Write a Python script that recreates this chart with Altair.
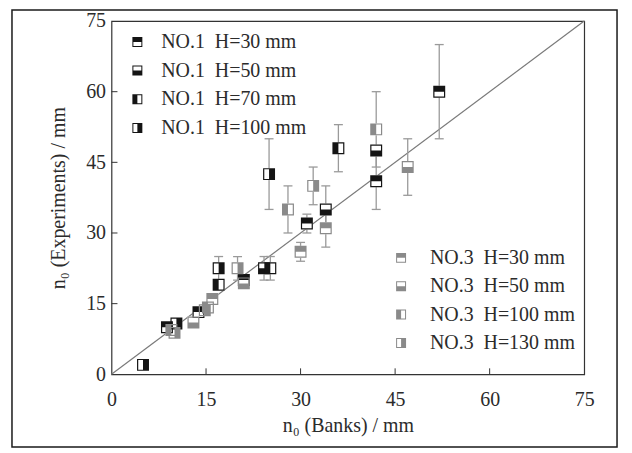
import altair as alt
import pandas as pd

# ---------------- data ----------------
series_no1 = ["NO.1\u00a0\u00a0H=30 mm", "NO.1\u00a0\u00a0H=50 mm", "NO.1\u00a0\u00a0H=70 mm", "NO.1\u00a0\u00a0H=100 mm"]
series_no3 = ["NO.3\u00a0\u00a0H=30 mm", "NO.3\u00a0\u00a0H=50 mm", "NO.3\u00a0\u00a0H=100 mm", "NO.3\u00a0\u00a0H=130 mm"]

# n0 from Banks (x), n0 from experiments (y), error half-length, series index (0-3 NO.1, 4-7 NO.3)
bank_x = [5, 8.8, 9.5, 10.3, 10.0, 13.0, 13.8, 14.8, 15.3, 16.0, 17.0, 17.0, 20.0, 21.0, 21.0,
          24.2, 25.2, 25.0, 28.0, 30.0, 31.0, 32.0, 34.0, 34.0, 36.0, 42.0, 42.0, 42.0, 47.0, 52.0]
exp_y = [2, 10.0, 9.4, 10.8, 8.8, 11.0, 13.2, 13.6, 14.2, 16.0, 19.0, 22.5, 22.5, 20.0, 19.3,
         22.5, 22.5, 42.5, 35.0, 26.0, 32.0, 40.0, 35.0, 31.0, 48.0, 52.0, 47.5, 41.0, 44.0, 60.0]
err_y = [0, 0, 0, 0, 0, 0, 0, 0, 0, 0, 0, 2.5, 2.5, 0, 0,
         2.5, 2.5, 7.5, 5, 2, 2, 4, 5, 4, 5, 8, 0, 6, 6, 10]
series_idx = [3, 0, 6, 3, 7, 5, 0, 7, 6, 4, 2, 3, 7, 0, 5,
              1, 2, 3, 6, 4, 0, 7, 1, 4, 2, 6, 1, 0, 5, 0]

tick_values = [0, 15, 30, 45, 60, 75]
inner_ticks = [15, 30, 45, 60]

all_series = series_no1 + series_no3
df = pd.DataFrame({
    "x": bank_x,
    "y": exp_y,
    "err": err_y,
    "series": [all_series[i] for i in series_idx],
})
df["lo"] = df["y"] - df["err"]
df["hi"] = df["y"] + df["err"]
df_err = df[df["err"] > 0]

diag = pd.DataFrame({"x": [0, 75], "y": [0, 75]})
ticks_df = pd.DataFrame({"t": inner_ticks})
one = pd.DataFrame({"a": [0]})

# half-filled square symbols: outline ring + half fill (nonzero winding)
ring = "M-1,-1L1,-1L1,1L-1,1Z M-0.8,-0.8L-0.8,0.8L0.8,0.8L0.8,-0.8Z "
half_paths = [
    ring + "M-1,-1L1,-1L1,0L-1,0Z",   # top half
    ring + "M-1,0L1,0L1,1L-1,1Z",     # bottom half
    ring + "M-1,-1L0,-1L0,1L-1,1Z",   # left half
    ring + "M0,-1L1,-1L1,1L0,1Z",     # right half
]

FONT = "Liberation Serif"
TXT = "#2b2b2b"
BLACK = "#141414"
GRAY = "#8a8a8a"
ERR = "#9a9a9a"

W, H = 475, 355

xs = alt.Scale(domain=[0, 75], nice=False, zero=False)
ys = alt.Scale(domain=[0, 75], nice=False, zero=False)

x_axis = alt.Axis(values=tick_values, grid=False, ticks=False, tickSize=0, domain=False,
                  labelFont=FONT, labelFontSize=20, labelColor=TXT, labelPadding=15,
                  labelFlush=False, labelOverlap=False,
                  title="n\u2080 (Banks) / mm", titleFont=FONT, titleFontSize=20,
                  titleFontWeight="normal", titleColor=TXT, titlePadding=6)
y_axis = alt.Axis(values=tick_values, grid=False, ticks=False, tickSize=0, domain=False,
                  labelFont=FONT, labelFontSize=20, labelColor=TXT, labelPadding=6,
                  labelFlush=False, labelOverlap=False,
                  title="n\u2080 (Experiments) / mm", titleFont=FONT, titleFontSize=20,
                  titleFontWeight="normal", titleColor=TXT, titlePadding=17)

line = alt.Chart(diag).mark_line(color="#7a7a7a", strokeWidth=1.2).encode(
    x=alt.X("x:Q", scale=xs, axis=x_axis),
    y=alt.Y("y:Q", scale=ys, axis=y_axis),
)

err_rule = alt.Chart(df_err).mark_rule(color=ERR, strokeWidth=1.3).encode(
    x="x:Q", y="lo:Q", y2="hi:Q")
cap_lo = alt.Chart(df_err).mark_tick(color=ERR, orient="horizontal", size=9, thickness=1.3, opacity=1).encode(
    x="x:Q", y="lo:Q")
cap_hi = alt.Chart(df_err).mark_tick(color=ERR, orient="horizontal", size=9, thickness=1.3, opacity=1).encode(
    x="x:Q", y="hi:Q")

bg = alt.Chart(df).mark_point(shape="square", filled=True, fill="white", size=144,
                              strokeWidth=0, opacity=1).encode(x="x:Q", y="y:Q")

pts1 = alt.Chart(df).transform_filter(
    alt.FieldOneOfPredicate(field="series", oneOf=series_no1)
).mark_point(filled=True, color=BLACK, size=144, strokeWidth=0, opacity=1).encode(
    x="x:Q", y="y:Q",
    shape=alt.Shape("series:N", scale=alt.Scale(domain=series_no1, range=half_paths),
                    legend=alt.Legend(title=None, orient="none", legendX=16, legendY=11,
                                      symbolSize=100, symbolFillColor=BLACK, symbolStrokeWidth=0,
                                      labelFont=FONT, labelFontSize=20, labelColor=TXT,
                                      labelOffset=14, rowPadding=8.8, padding=0, labelLimit=300)),
)
pts3 = alt.Chart(df).transform_filter(
    alt.FieldOneOfPredicate(field="series", oneOf=series_no3)
).mark_point(filled=True, color=GRAY, size=144, strokeWidth=0, opacity=1).encode(
    x="x:Q", y="y:Q",
    shape=alt.Shape("series:N", scale=alt.Scale(domain=series_no3, range=half_paths),
                    legend=alt.Legend(title=None, orient="none", legendX=281, legendY=228,
                                      symbolSize=100, symbolFillColor=GRAY, symbolStrokeWidth=0,
                                      labelFont=FONT, labelFontSize=20, labelColor=TXT,
                                      labelOffset=19, rowPadding=8.5, padding=0, labelLimit=300)),
)

xt = alt.Chart(ticks_df).mark_rule(color="#333", strokeWidth=1).encode(
    x="t:Q", y=alt.value(H), y2=alt.value(H - 6))
yt = alt.Chart(ticks_df).mark_rule(color="#333", strokeWidth=1).encode(
    y="t:Q", x=alt.value(0), x2=alt.value(6))

frame = alt.Chart(one).mark_rect(fillOpacity=0, stroke="#1a1a1a", strokeWidth=1.5).encode(
    x=alt.value(-100), x2=alt.value(508), y=alt.value(-11), y2=alt.value(428))

chart = alt.layer(line, err_rule, cap_lo, cap_hi, bg, pts1, pts3, xt, yt, frame).resolve_scale(
    shape="independent"
).properties(
    width=W, height=H,
    padding={"left": 104, "top": 12, "right": 40, "bottom": 78},
    autosize=alt.AutoSizeParams(type="none"),
    background="white",
).configure_view(stroke="#333", strokeWidth=1.2)

chart.save("out.html", embed_options={"renderer": "svg", "actions": False})
